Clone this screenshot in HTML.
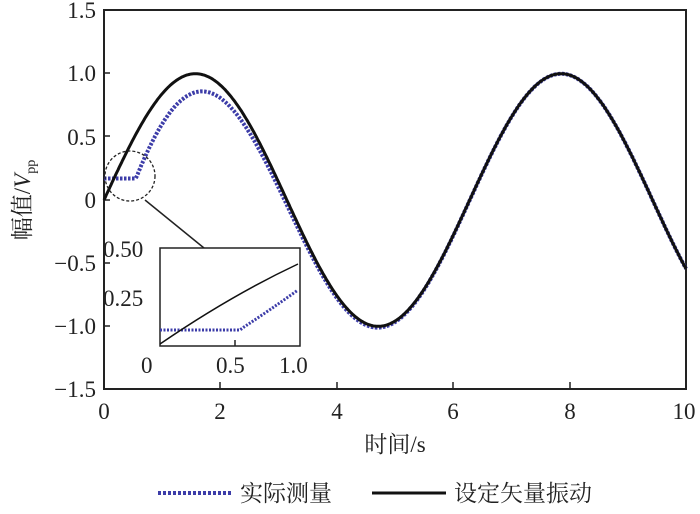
<!DOCTYPE html>
<html><head><meta charset="utf-8"><style>
body{margin:0;background:#fff}
text{font-family:"Liberation Serif","Noto Serif CJK SC",serif;fill:#222}
</style></head><body>
<svg width="700" height="509" viewBox="0 0 700 509" xmlns="http://www.w3.org/2000/svg">
<rect x="104" y="10" width="582" height="379" fill="none" stroke="#222" stroke-width="2"/>
<g font-size="23" text-anchor="end">
<text x="96" y="18">1.5</text><text x="96" y="81">1.0</text><text x="96" y="145">0.5</text>
<text x="96" y="208">0</text><text x="96" y="271">−0.5</text><text x="96" y="334">−1.0</text><text x="96" y="397">−1.5</text>
</g>
<g font-size="23" text-anchor="middle">
<text x="104" y="419">0</text><text x="220" y="419">2</text><text x="337" y="419">4</text>
<text x="453" y="419">6</text><text x="570" y="419">8</text><text x="684" y="419">10</text>
<text x="395" y="452">时间/s</text>
</g>
<text font-size="23" transform="translate(30,200) rotate(-90)" text-anchor="middle">幅值/<tspan font-style="italic">V</tspan><tspan font-size="14" dy="5">pp</tspan></text>
<g stroke="#222" stroke-width="1.5">
<path d="M104 73h6M104 136h6M104 200h6M104 263h6M104 326h6"/>
<path d="M220 389v-7M337 389v-7M453 389v-7M570 389v-7"/>
</g>
<path id="bl" fill="none" stroke="#3c3ca8" stroke-width="4" stroke-dasharray="2.5 1.5"/>
<path id="bk" fill="none" stroke="#111" stroke-width="3"/>
<ellipse cx="130" cy="176" rx="25" ry="25" fill="none" stroke="#222" stroke-width="1.3" stroke-dasharray="3 2"/>
<line x1="145" y1="200" x2="204" y2="248" stroke="#222" stroke-width="1.5"/>
<rect x="160" y="248" width="140" height="98" fill="#fff" stroke="#222" stroke-width="1.5"/>
<path d="M160 330H240L244 327Q270 310 298 290" fill="none" stroke="#3c3ca8" stroke-width="3" stroke-dasharray="2 1.5"/>
<path d="M160 344Q230 296 298 264" fill="none" stroke="#111" stroke-width="1.5"/>
<path d="M235 346v-6" stroke="#222" stroke-width="1.5"/>
<g font-size="23">
<text x="103" y="257">0.50</text><text x="103" y="306">0.25</text>
<text x="141" y="373">0</text><text x="216" y="373">0.5</text><text x="279" y="373">1.0</text>
</g>
<line x1="158" y1="493" x2="232" y2="493" stroke="#3c3ca8" stroke-width="4" stroke-dasharray="3 2"/>
<text x="240" y="501" font-size="23">实际测量</text>
<line x1="372" y1="493" x2="446" y2="493" stroke="#111" stroke-width="3"/>
<text x="454" y="501" font-size="23">设定矢量振动</text>
<script>
var X=t=>104+t*58.2,Y=v=>200-v*126.3,a="",b="";
for(var t=0;t<=10.001;t+=0.02){var s=Math.sin(t);a+=(t?"L":"M")+X(t).toFixed(1)+" "+Y(s).toFixed(1);
var v=t<0.55?0.17:s-0.35*Math.exp(-0.85*(t-0.55));b+=(t?"L":"M")+X(t).toFixed(1)+" "+Y(v).toFixed(1);}
document.getElementById("bk").setAttribute("d",a);document.getElementById("bl").setAttribute("d",b);
</script>
</svg>
</body></html>
